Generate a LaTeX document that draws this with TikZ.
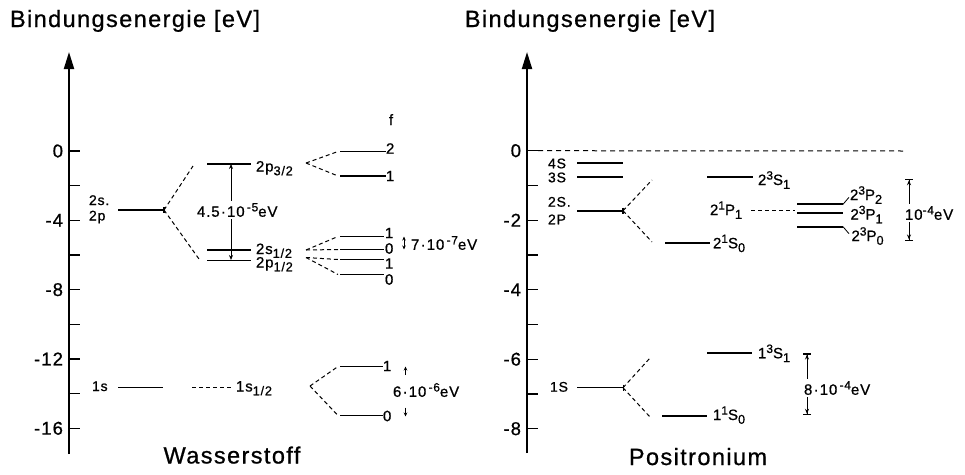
\documentclass[tikz,border=0pt]{standalone}
\usepackage{fontspec}
\setmainfont[LetterSpace=6,FakeBold=0.8]{Liberation Sans}
\usepackage{graphicx}
\usetikzlibrary{arrows.meta}
% raised / lowered indices in the text font
\newcommand\up[1]{\raisebox{0.36em}{\scalebox{0.8}{#1}}}
\newcommand\dn[1]{\raisebox{-0.25em}{\scalebox{0.85}{#1}}}
\begin{document}
\begin{tikzpicture}[x=1pt,y=-1pt,
  every node/.style={inner sep=0pt,outer sep=0pt},
  ttl/.style={font=\fontsize{23.5}{26}\selectfont},
  tlb/.style={font=\fontsize{18.5}{20}\selectfont},
  lb/.style={font=\fontsize{15}{17}\selectfont},
  sm/.style={font=\fontsize{14}{16}\selectfont},
  lvl/.style={line width=1.9pt},
  dsh/.style={line width=1pt,dash pattern=on 4pt off 3pt},
  axisln/.style={line width=2pt,-{Triangle[length=17pt,width=10pt]}},
  tk/.style={line width=1.3pt},
  dim/.style={line width=0.9pt,{Stealth[length=5pt,width=4pt]}-{Stealth[length=5pt,width=4pt]}},
  sdim/.style={line width=0.9pt,{Stealth[length=4pt,width=3.5pt]}-{Stealth[length=4pt,width=3.5pt]}},
  onearr/.style={line width=0.9pt,-{Stealth[length=4pt,width=3.5pt]}},
  bardim/.style={line width=0.9pt,
    {Bar[width=8pt,line width=1.2pt]Stealth[length=5pt,width=4pt]}-{Stealth[length=5pt,width=4pt]Bar[width=8pt,line width=1.2pt]}},
  gap/.style={fill=white,inner xsep=1pt,inner ysep=2pt}]
\useasboundingbox (0,0) rectangle (965,474);

% ---------------- hydrogen ----------------
\node[ttl,anchor=base west] (tH) at (10,27) {Bindungsenergie [eV]};
\coordinate (HAb) at (69,454);
\coordinate (HAt) at (69,52);
\draw[axisln] (HAb) -- (HAt);
\foreach \k in {0,...,8}{
  \coordinate (ht\k) at (69,{151+34.66*\k});
  \draw[tk] (ht\k) -- ++(11,0);
}
\foreach \k/\t in {0/0,2/-4,4/-8,6/-12,8/-16}
  \node[tlb,anchor=east] (hl\k) at (63,{151+34.66*\k}) {\t};

% n = 2
\node[sm,anchor=base west] (h2s) at (89,205) {2s.};
\node[sm,anchor=base west] (h2p) at (89,220.5) {2p};
\coordinate (h2a) at (118,210);
\coordinate (h2b) at (164,210);
\draw[lvl] (h2a) -- (h2b);
\draw[tk] (h2b) ++(0,-3) -- ++(0,6);
\coordinate (h2u) at (193,166);
\coordinate (h2d) at (199,259);
\draw[dsh] (h2b) -- (h2u);
\draw[dsh] (h2b) -- (h2d);

\coordinate (p32a) at (207,164);   \coordinate (p32b) at (251,164);
\coordinate (s12a) at (207,250);   \coordinate (s12b) at (251,250);
\coordinate (p12a) at (207,260.5); \coordinate (p12b) at (251,260.5);
\draw[lvl] (p32a) -- (p32b);
\draw[lvl] (s12a) -- (s12b);
\draw[lvl] (p12a) -- (p12b);
\node[lb,anchor=base west] (lp32) at (256,171.5) {2p\dn{3/2}};
\node[lb,anchor=base west] (ls12) at (256,254) {2s\dn{1/2}};
\node[lb,anchor=base west] (lp12) at (256,267.5) {2p\dn{1/2}};

\coordinate (fsT) at (231,164);
\coordinate (fsB) at (231,260);
\draw[dim] (fsT) -- (fsB);
\node[lb,gap,anchor=west] (e45) at (196,210) {4.5\kern.08em·\kern.08em10\kern.15em\up{-5}eV};

% hyperfine levels of 2p3/2
\node[lb,anchor=base] (hf) at (391,125) {f};
\coordinate (j32) at (306,163);
\coordinate (f2a) at (340,151.5); \coordinate (f2b) at (386,151.5);
\coordinate (f1a) at (340,176);   \coordinate (f1b) at (386,176);
\draw[lvl] (f2a) -- (f2b);
\draw[lvl] (f1a) -- (f1b);
\draw[dsh] (j32) -- ([xshift=-2pt]f2a);
\draw[dsh] (j32) -- ([xshift=-2pt]f1a);
\node[lb,anchor=west] (lf2) at (386,148.5) {2};
\node[lb,anchor=west] (lf1) at (386,176) {1};

% hyperfine levels of 2s1/2 and 2p1/2
\coordinate (js) at (306,250);
\coordinate (jp) at (306,257.5);
\coordinate (g1a) at (340,236.5); \coordinate (g1b) at (384,236.5);
\coordinate (g2a) at (340,249.5); \coordinate (g2b) at (384,249.5);
\coordinate (g3a) at (340,259.5); \coordinate (g3b) at (384,259.5);
\coordinate (g4a) at (340,274.5); \coordinate (g4b) at (384,274.5);
\foreach \g in {1,2,3,4} \draw[lvl] (g\g a) -- (g\g b);
\draw[dsh] (js) -- ([xshift=-2pt]g1a);
\draw[dsh] (js) -- ([xshift=-2pt]g2a);
\draw[dsh] (jp) -- ([xshift=-2pt]g3a);
\draw[dsh] (jp) -- ([xshift=-2pt]g4a);
\node[lb,anchor=west] (lg1) at (385,233) {1};
\node[lb,anchor=west] (lg2) at (385,248.5) {0};
\node[lb,anchor=west] (lg3) at (385,263.5) {1};
\node[lb,anchor=west] (lg4) at (385,279.5) {0};
\coordinate (e7T) at (404,236.5);
\coordinate (e7B) at (404,249.5);
\draw[sdim] (e7T) -- (e7B);
\node[lb,anchor=west] (e7) at (411,243) {7\kern.08em·\kern.08em10\kern.15em\up{-7}eV};

% n = 1
\node[sm,anchor=base west] (h1s) at (92,391) {1s};
\coordinate (h1a) at (118,387.5);
\coordinate (h1b) at (163,387.5);
\draw[lvl,line width=1.4pt] (h1a) -- (h1b);
\coordinate (h1c) at (192,387.5);
\coordinate (h1d) at (233,387.5);
\draw[dsh] (h1c) -- (h1d);
\node[lb,anchor=base west] (l1s) at (236,391.5) {1s\dn{1/2}};
\coordinate (j1s) at (310,386);
\coordinate (k1a) at (340,366.5); \coordinate (k1b) at (383,366.5);
\coordinate (k0a) at (340,415.5); \coordinate (k0b) at (383,415.5);
\draw[lvl] (k1a) -- (k1b);
\draw[lvl] (k0a) -- (k0b);
\draw[dsh] (j1s) -- ([xshift=-2pt]k1a);
\draw[dsh] (j1s) -- ([xshift=-2pt]k0a);
\node[lb,anchor=west] (lk1) at (383,366) {1};
\node[lb,anchor=west] (lk0) at (383,416) {0};
\coordinate (u6a) at (405.5,375);   \coordinate (u6b) at (405.5,366.5);
\coordinate (d6a) at (405.5,407.5); \coordinate (d6b) at (405.5,416.5);
\draw[onearr] (u6a) -- (u6b);
\draw[onearr] (d6a) -- (d6b);
\node[lb,anchor=west] (e6) at (393,390) {6\kern.08em·\kern.08em10\kern.15em\up{-6}eV};

\node[ttl,anchor=base] (wH) at (232,463.5) {Wasserstoff};

% ---------------- positronium ----------------
\node[ttl,anchor=base east] (tP) at (715,27) {Bindungsenergie [eV]};
\coordinate (PAb) at (527,453);
\coordinate (PAt) at (527,52);
\draw[axisln] (PAb) -- (PAt);
\foreach \k in {0,...,8}{
  \coordinate (pt\k) at (527,{150.7+34.75*\k});
  \draw[tk] (pt\k) -- ++(11,0);
}
\foreach \k/\t in {0/0,2/-2,4/-4,6/-6,8/-8}
  \node[tlb,anchor=east] (pl\k) at (521,{150.7+34.75*\k}) {\t};
\coordinate (zeroR) at (905,151);
\draw[line width=1pt,dash pattern=on 5pt off 4pt] ([xshift=11pt]pt0) -- (zeroR);

% n = 4, 3, 2
\node[sm,anchor=base west] (l4S) at (548,168.3) {4S};
\node[sm,anchor=base west] (l3S) at (548,182.3) {3S};
\node[sm,anchor=base west] (l2S) at (548,206.7) {2S.};
\node[sm,anchor=base west] (l2P) at (548,224.3) {2P};
\coordinate (n4a) at (577,163.3); \coordinate (n4b) at (623,163.3);
\coordinate (n3a) at (577,177.3); \coordinate (n3b) at (623,177.3);
\coordinate (n2a) at (577,210.7); \coordinate (n2b) at (623,210.7);
\draw[lvl] (n4a) -- (n4b);
\draw[lvl] (n3a) -- (n3b);
\draw[lvl] (n2a) -- (n2b);
\draw[tk] (n2b) ++(0,-3) -- ++(0,6);
\coordinate (n2u) at (652,180);
\coordinate (n2d) at (652,242);
\draw[dsh] (n2b) -- (n2u);
\draw[dsh] (n2b) -- (n2d);

\coordinate (s21a) at (665,242.7); \coordinate (s21b) at (710,242.7);
\draw[lvl] (s21a) -- (s21b);
\node[lb,anchor=base west] (ls21) at (713,248.3) {2\up{1}S\dn{0}};
\coordinate (s23a) at (707,176.7); \coordinate (s23b) at (753,176.7);
\draw[lvl] (s23a) -- (s23b);
\node[lb,anchor=base west] (ls23) at (758,185) {2\up{3}S\dn{1}};

\node[lb,anchor=base west] (lp21) at (710,215) {2\up{1}P\dn{1}};
\coordinate (p21a) at (751,210.5);
\coordinate (p21b) at (795,210.5);
\draw[dsh] (p21a) -- (p21b);
\coordinate (q2a) at (797,204.3); \coordinate (q2b) at (843,204.3);
\coordinate (q1a) at (797,212.7); \coordinate (q1b) at (843,212.7);
\coordinate (q0a) at (797,226.7); \coordinate (q0b) at (843,226.7);
\draw[lvl] (q2a) -- (q2b);
\draw[lvl] (q1a) -- (q1b);
\draw[lvl] (q0a) -- (q0b);
\node[lb,anchor=base west] (lq2) at (850,200) {2\up{3}P\dn{2}};
\node[lb,anchor=base west] (lq1) at (850.5,219.5) {2\up{3}P\dn{1}};
\node[lb,anchor=base west] (lq0) at (851.5,241) {2\up{3}P\dn{0}};
\draw[line width=0.8pt] (q2b) -- ++(6,-7);
\draw[line width=0.8pt] (q0b) -- ++(6,7);
\coordinate (e4T) at (909,179);
\coordinate (e4B) at (909,240.7);
\draw[bardim] (e4T) -- (e4B);
\node[lb,gap,anchor=west] (e4) at (904,213) {10\up{-4}eV};

% n = 1
\node[sm,anchor=base west] (l1S) at (550,391.7) {1S};
\coordinate (m1a) at (577,387.7); \coordinate (m1b) at (623,387.7);
\draw[lvl,line width=1.4pt] (m1a) -- (m1b);
\draw[tk,line width=1pt] (m1b) ++(0,-3) -- ++(0,6);
\coordinate (m1u) at (650,358);
\coordinate (m1d) at (650,417);
\draw[dsh] (m1b) -- (m1u);
\draw[dsh] (m1b) -- (m1d);
\coordinate (o11a) at (662,416); \coordinate (o11b) at (707,416);
\draw[lvl] (o11a) -- (o11b);
\node[lb,anchor=base west] (lo11) at (713,420) {1\up{1}S\dn{0}};
\coordinate (o13a) at (707,353.3); \coordinate (o13b) at (752,353.3);
\draw[lvl] (o13a) -- (o13b);
\node[lb,anchor=base west] (lo13) at (758,358.3) {1\up{3}S\dn{1}};
\coordinate (e8T) at (807,353.3);
\coordinate (e8B) at (807,415);
\draw[bardim] (e8T) -- (e8B);
\node[lb,gap,anchor=west] (e8) at (803,388) {8\kern.08em·\kern.08em10\kern.15em\up{-4}eV};

\node[ttl,anchor=base] (wP) at (698,465) {Positronium};
\end{tikzpicture}
\end{document}
